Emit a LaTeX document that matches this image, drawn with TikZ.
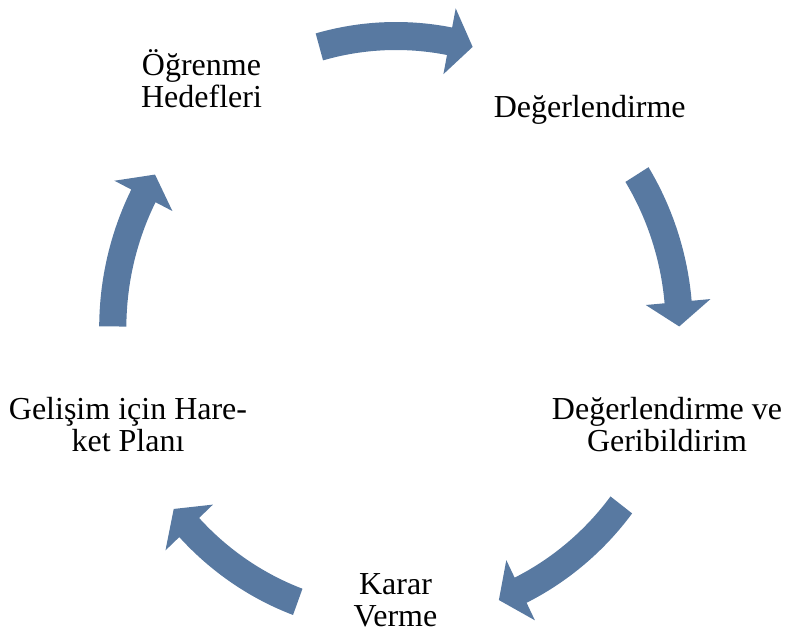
\documentclass[tikz,border=0pt]{standalone}
\usepackage{fontspec}
\setmainfont{Liberation Serif}
\usepackage{tikz}
\definecolor{cycleblue}{RGB}{88,121,161}

\begin{document}
\begin{tikzpicture}[x=1pt,y=1pt,
            stage/.style={align=center,inner sep=0pt,font=\fontsize{32}{32}\selectfont},
            band/.style={fill=cycleblue}]
            \useasboundingbox (0,0) rectangle (785,634);
            \coordinate (hub) at (396,306);

            \node[stage]             (ogr)   at (201.5,555.5) {Öğrenme\\Hedefleri};
            \node[stage,anchor=base] (deg)   at (589.7,516.7) {Değerlendirme};
            \node[stage]             (geri)  at (667,209.6)   {Değerlendirme ve\\Geribildirim};
            \node[stage]             (karar) at (395.5,34)    {Karar\\Verme};
            \node[stage]             (gel)   at (128,209.6)   {Gelişim için Hare-\\ket Planı};

            \foreach \m in {90,16,-53,-126,164}
            \fill[band,shift={(hub)},xscale=0.97] (\m+15.7:306) arc[start angle=\m+15.7,end angle=\m-10.9,radius=306]
            -- (\m-10.9:325.5) -- (\m-15.7:292) -- (\m-10.9:258.5) -- (\m-10.9:278)
            arc[start angle=\m-10.9,end angle=\m+15.7,radius=278] -- cycle;
\end{tikzpicture}
\end{document}
